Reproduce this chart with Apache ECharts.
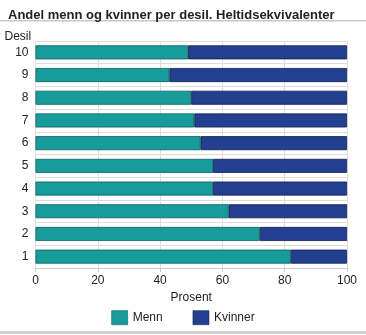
<!DOCTYPE html>
<html><head><meta charset="utf-8">
<script src="https://cdn.jsdelivr.net/npm/echarts@6/dist/echarts.min.js"></script>
<style>html,body{margin:0;padding:0;background:#fff}#c{width:366px;height:335px}</style>
</head><body><div id="c"></div>
<script>
const categories = ['1','2','3','4','5','6','7','8','9','10'];
const menn = [82, 72, 62, 57, 57, 53, 51, 50, 43, 49];
const kvinner = [18, 28, 38, 43, 43, 47, 49, 50, 57, 51];
const xTicks = [0, 20, 40, 60, 80, 100];

const chart = echarts.init(document.getElementById('c'), null, {renderer:'canvas'});
const font = 'Liberation Sans, Arial, sans-serif';
chart.setOption({
  animation:false,
  title:{text:'Andel menn og kvinner per desil. Heltidsekvivalenter', left:3, top:4,
    textStyle:{fontFamily:font, fontSize:13, fontWeight:'bold', color:'#222'}},
  graphic:[
    {type:'rect', shape:{x:0,y:20,width:366,height:1.5}, style:{fill:'#c8c8c8'}},
    {type:'rect', shape:{x:0,y:331,width:366,height:3}, style:{fill:'#d0d0d0'}}
  ],
  grid:{left:35.5, right:19, top:41, bottom:67},
  legend:{bottom:5, left:'center', itemWidth:16, itemHeight:14, itemGap:30, icon:'rect',
    itemStyle:{borderWidth:0.6},
    textStyle:{fontFamily:font, fontSize:12, color:'#222'},
    data:['Menn','Kvinner']},
  xAxis:{type:'value', min:0, max:100, interval:20,
    name:'Prosent', nameLocation:'middle', nameGap:19,
    nameTextStyle:{fontFamily:font, fontSize:12, color:'#222'},
    axisLine:{show:true, lineStyle:{color:'#ccc'}},
    axisTick:{show:true, length:4, lineStyle:{color:'#ccc'}},
    axisLabel:{fontFamily:font, fontSize:12, color:'#222', margin:7,
      formatter:v=>xTicks.includes(v)?String(v):''},
    splitLine:{show:true, lineStyle:{color:'#ddd', width:1}}},
  yAxis:{type:'category', data:categories,
    name:'Desil', nameLocation:'end', nameGap:-2,
    nameTextStyle:{fontFamily:font, fontSize:12, color:'#222', align:'left', padding:[0,0,0,-31]},
    axisLine:{show:false}, axisTick:{show:false},
    axisLabel:{fontFamily:font, fontSize:12, color:'#222', margin:7},
    splitLine:{show:true, lineStyle:{color:'#ddd', width:1}}},
  series:[
    {name:'Menn', type:'bar', stack:'a', data:menn, barWidth:14,
      itemStyle:{color:'#179c9b', borderColor:'#0e5e5e', borderWidth:0.8}},
    {name:'Kvinner', type:'bar', stack:'a', data:kvinner, barWidth:14,
      itemStyle:{color:'#233f8f', borderColor:'#10204a', borderWidth:0.8}}
  ]
});
</script></body></html>
